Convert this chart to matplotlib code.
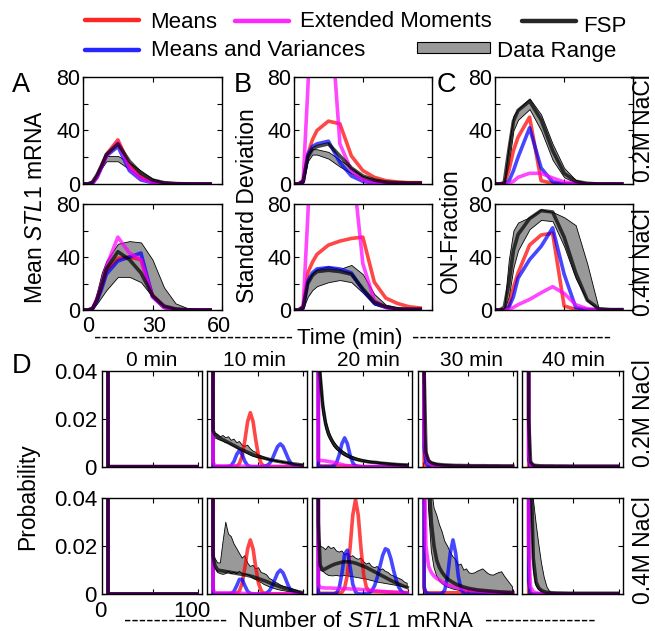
import matplotlib
matplotlib.use('Agg')
import matplotlib.pyplot as plt
from matplotlib.lines import Line2D
from matplotlib.patches import Rectangle
import matplotlib.transforms as mtransforms

plt.rcParams['font.family'] = ['Liberation Sans', 'DejaVu Sans']
plt.rcParams['mathtext.fontset'] = 'custom'
plt.rcParams['mathtext.rm'] = 'Liberation Sans'
plt.rcParams['mathtext.it'] = 'Liberation Sans:italic'
plt.rcParams['mathtext.bf'] = 'Liberation Sans:bold'

# ------------------------------------------------------------------ data
# time course panels (A: mean, B: std, C: ON fraction %), time in min
T = [0, 1, 2, 4, 6, 8, 10, 15, 20, 25, 30, 35, 40, 45, 50, 55]

A02_LO = [0, 0, 0, 1, 5, 12, 17, 17, 11, 5, 1.5, 0.4, 0.1, 0, 0, 0]
A02_HI = [0, 0, 0, 2, 8, 15, 21, 21, 16, 10, 4, 1.5, 0.5, 0.2, 0.1, 0.1]
A02_M = [0, 0, 0, 1, 6, 14, 22, 33, 14, 5, 1.5, 0.5, 0.2, 0, 0, 0]
A02_MV = [0, 0, 0, 0.5, 5, 13, 21, 28, 10, 3, 1, 0.3, 0, 0, 0, 0]
A02_EM = [0, 0, 0, 0.5, 5, 13, 21, 31, 12, 4, 1.2, 0.4, 0.1, 0, 0, 0]
A02_FSP = [0, 0, 0, 1.5, 7, 14, 22, 30, 17, 8, 3, 1, 0.3, 0.1, 0, 0]

A04_LO = [0, 0, 0, 0.5, 5, 10, 15, 25, 25, 21, 10, 2.5, 0.5, 0, 0, 0]
A04_HI = [0, 0, 0, 2, 14, 28, 37, 50, 52, 51, 38, 17, 5, 1.5, 0.5, 0.2]
A04_M = [0, 0, 0, 1, 8, 18, 30, 39, 40, 38, 11, 2, 0.3, 0, 0, 0]
A04_MV = [0, 0, 0, 1, 7, 16, 27, 37, 40, 43, 10, 2, 0.3, 0, 0, 0]
A04_EM = [0, 0, 0, 1, 9, 20, 33, 55, 43, 38, 10, 2, 0.3, 0, 0, 0]
A04_FSP = [0, 0, 0, 1, 8, 19, 31, 44, 38, 28, 11, 3, 0.8, 0.2, 0, 0]

B02_LO = [0, 0, 0, 1, 17, 22, 22, 19, 13, 8, 4, 2, 1, 0.7, 0.6, 0.6]
B02_HI = [0, 0, 0, 2.5, 22, 26, 26, 24, 18, 12, 6, 3.5, 2, 1.5, 1.2, 1.2]
B02_M = [0, 0, 0, 2, 22, 33, 40, 47, 45, 21, 10, 5, 2.5, 1.5, 1, 1]
B02_MV = [0, 0, 0, 1.5, 22, 28, 30, 32, 16, 6, 2, 0.6, 0.2, 0.1, 0, 0]
B02_EM = [0, 0, 0, 3, 70, 150, 160, 150, 30, 10, 3, 1, 0.5, 0.3, 0.2, 0.2]
B02_FSP = [0, 0, 0, 2, 20, 26, 28, 30, 21, 12, 6, 3, 1.5, 1, 0.8, 0.8]

B04_LO = [0, 0, 0, 1, 10, 15, 18, 21, 22.6, 21, 13, 4, 1.5, 0.5, 0.3, 0.3]
B04_HI = [0, 0, 0, 2.5, 22, 28, 31, 33, 31, 34, 27, 12, 4, 2, 1, 1]
B04_M = [0, 0, 0, 2, 28, 36, 42, 49, 52, 54, 55, 21, 9, 5, 2.5, 1.5]
B04_MV = [0, 0, 0, 1.5, 22, 28, 31, 32, 31, 28, 15, 5, 2, 0.5, 0.2, 0.1]
B04_EM = [0, 0, 0, 3, 70, 150, 170, 180, 150, 118, 35, 7, 2, 0.5, 0.3, 0.2]
B04_FSP = [0, 0, 0, 2, 20, 26, 29, 30, 29, 27, 16, 6, 2.5, 1, 0.7, 0.7]

C02_LO = [0, 0, 0, 0.5, 15, 40, 48, 56, 40, 18, 5, 1, 0.2, 0, 0, 0]
C02_HI = [0, 0, 0, 2, 30, 51, 56, 64, 52, 30, 12, 3, 1, 0.5, 0.3, 0.3]
C02_M = [0, 0, 0, 0, 10, 25, 35, 50, 2.5, 0.5, 0, 0, 0, 0, 0, 0]
C02_MV = [0, 0, 0, 0, 2, 10, 20, 42, 12, 1.5, 0.2, 0, 0, 0, 0, 0]
C02_EM = [0, 0, 0, 0, 0.5, 2, 5, 8, 8, 4.5, 1.5, 0.5, 0.1, 0, 0, 0]
C02_FSP = [0, 0, 0, 1, 25, 47, 55, 62, 48, 25, 8, 2, 0.5, 0, 0, 0]

C04_LO = [0, 0, 0, 0, 10, 32, 45, 61, 68, 67, 48, 24, 7, 0.3, 0, 0]
C04_HI = [0, 0, 0, 2, 38, 60, 66, 70, 76, 74, 70, 64, 35, 1, 0.5, 0.5]
C04_M = [0, 0, 0, 0, 3, 17, 28, 49, 56.6, 58, 3, 0.5, 0, 0, 0, 0]
C04_MV = [0, 0, 0, 0, 2, 10, 24, 38, 48, 62, 27, 2, 0.3, 0, 0, 0]
C04_EM = [0, 0, 0, 0, 0.3, 2, 4, 8, 13, 17.6, 12.5, 4, 1, 0.3, 0, 0]
C04_FSP = [0, 0, 0, 2, 20, 45, 57, 69, 75, 74, 55, 28, 7.5, 1, 0.3, 0.3]

# distributions (panel D): number of mRNA and probability x 1e-3
N = [0, 1, 3, 6, 9, 12, 15, 18, 21, 24,
     27, 30, 33, 36, 39, 42, 45, 48, 51, 54,
     57, 60, 63, 66, 69, 72, 75, 78, 81, 84,
     87, 90, 93, 96, 99]

SPIKE = [1000, 0, 0, 0, 0, 0, 0, 0, 0, 0,
         0, 0, 0, 0, 0, 0, 0, 0, 0, 0,
         0, 0, 0, 0, 0, 0, 0, 0, 0, 0,
         0, 0, 0, 0, 0]

# 0.2M, 10 min
M02_10 = [700, 0, 0, 0, 0, 0, 0, 0, 0, 0,
          0.25, 1.3, 4.5, 11, 18.8, 22.5, 18.8, 11, 4.5, 1.3,
          0.25, 0, 0, 0, 0, 0, 0, 0, 0, 0,
          0, 0, 0, 0, 0]
MV02_10 = [600, 0, 0, 0, 0, 0, 0, 0.07, 0.54, 2.2,
           5.1, 6.8, 5.1, 2.2, 0.54, 0.07, 0, 0, 0, 0,
           0.1, 0.42, 1.3, 3.1, 5.8, 8.4, 9.5, 8.4, 5.8, 3.1,
           1.3, 0.42, 0.1, 0, 0]
EM02_10 = [900, 2, 0.4, 0.3, 0.3, 0.3, 0.3, 0.3, 0.3, 0.3,
           0.3, 0.2, 0.2, 0.2, 0.2, 0.1, 0.1, 0.1, 0.1, 0.1,
           0.1, 0.1, 0.1, 0.1, 0.1, 0.1, 0.1, 0.1, 0.1, 0.1,
           0.1, 0.1, 0.1, 0.1, 0.1]
FSP02_10 = [600, 15, 13.5, 12.5, 11.8, 11.2, 10.6, 10.0, 9.4, 8.8,
            8.2, 7.6, 7.0, 6.5, 6.0, 5.5, 5.0, 4.6, 4.2, 3.9,
            3.6, 3.3, 3.0, 2.7, 2.5, 2.3, 2.1, 1.9, 1.7, 1.5,
            1.3, 1.1, 1.0, 0.85, 0.7]
HI02_10 = [600, 15, 14, 13.5, 12.5, 13.0, 12.0, 12.5, 11.0, 11.5,
           10.0, 10.5, 9.0, 8.5, 9.0, 7.5, 6.5, 6.0, 5.0, 4.5,
           4.0, 3.6, 3.2, 2.9, 2.6, 2.4, 2.2, 2.0, 1.8, 1.6,
           1.4, 1.2, 1.05, 0.9, 0.75]
LO02_10 = [600, 13, 12.0, 11.5, 11.0, 10.6, 10.0, 9.8, 9.0, 8.5,
           7.8, 7.2, 6.6, 6.0, 5.4, 4.8, 4.3, 4.0, 3.7, 3.5,
           3.3, 3.1, 2.8, 2.6, 2.4, 2.2, 2.0, 1.8, 1.6, 1.4,
           1.2, 1.0, 0.9, 0.8, 0.65]

# 0.2M, 20 min
M02_20 = [950, 0.3, 0.3, 0.3, 0.3, 0.3, 0.3, 0.3, 0.3, 0.3,
          0.3, 0.3, 0.3, 0.3, 0.3, 0.3, 0.2, 0.1, 0, 0,
          0, 0, 0, 0, 0, 0, 0, 0, 0, 0,
          0, 0, 0, 0, 0]
MV02_20 = [800, 0, 0, 0, 0, 0, 0.04, 0.34, 1.6, 4.9,
           9.6, 12, 9.6, 4.9, 1.6, 0.34, 0.04, 0, 0, 0,
           0, 0, 0, 0, 0, 0, 0, 0, 0, 0,
           0, 0, 0, 0, 0]
EM02_20 = [900, 3, 2.6, 2.5, 2.4, 2.2, 2.0, 1.8, 1.5, 1.2,
           0.9, 0.6, 0.4, 0.25, 0.15, 0.1, 0.05, 0, 0, 0,
           0, 0, 0, 0, 0, 0, 0, 0, 0, 0,
           0, 0, 0, 0, 0]
FSP02_20 = [500, 60, 38, 25, 18, 14, 11.5, 9.5, 8.0, 7.0,
            6.0, 5.2, 4.6, 4.0, 3.6, 3.2, 2.9, 2.6, 2.4, 2.2,
            2.0, 1.9, 1.8, 1.7, 1.5, 1.4, 1.3, 1.2, 1.1, 1.0,
            0.9, 0.85, 0.8, 0.75, 0.7]
HI02_20 = [500, 65, 42, 28, 20, 15.5, 12.5, 10.5, 9.0, 7.8,
           6.8, 6.0, 5.3, 4.7, 4.2, 3.8, 3.4, 3.1, 2.8, 2.6,
           2.4, 2.2, 2.1, 2.0, 1.8, 1.7, 1.6, 1.5, 1.4, 1.3,
           1.2, 1.1, 1.0, 0.95, 0.9]
LO02_20 = [500, 55, 34, 22, 16, 12.5, 10.5, 8.5, 7.2, 6.2,
           5.3, 4.6, 4.0, 3.5, 3.1, 2.8, 2.5, 2.3, 2.1, 1.9,
           1.7, 1.6, 1.5, 1.4, 1.3, 1.2, 1.1, 1.0, 0.9, 0.8,
           0.75, 0.7, 0.65, 0.6, 0.55]

# 0.2M, 30 min
M02_30 = [980, 0, 0, 0, 0, 0, 0, 0, 0, 0,
          0, 0, 0, 0, 0, 0, 0, 0, 0, 0,
          0, 0, 0, 0, 0, 0, 0, 0, 0, 0,
          0, 0, 0, 0, 0]
MV02_30 = [800, 8, 1.5, 0.3, 0.05, 0, 0, 0, 0, 0,
           0, 0, 0, 0, 0, 0, 0, 0, 0, 0,
           0, 0, 0, 0, 0, 0, 0, 0, 0, 0,
           0, 0, 0, 0, 0]
EM02_30 = [800, 15, 5, 2, 0.8, 0.3, 0.15, 0.1, 0.05, 0,
           0, 0, 0, 0, 0, 0, 0, 0, 0, 0,
           0, 0, 0, 0, 0, 0, 0, 0, 0, 0,
           0, 0, 0, 0, 0]
FSP02_30 = [600, 40, 6, 2.5, 1.6, 1.3, 1.0, 0.9, 0.8, 0.7,
            0.65, 0.6, 0.55, 0.5, 0.5, 0.5, 0.45, 0.45, 0.45, 0.4,
            0.4, 0.4, 0.4, 0.4, 0.4, 0.35, 0.35, 0.35, 0.35, 0.35,
            0.3, 0.3, 0.3, 0.3, 0.3]
HI02_30 = [600, 45, 7, 3, 2, 1.6, 1.3, 1.1, 1.0, 0.9,
           0.85, 0.8, 0.75, 0.7, 0.7, 0.65, 0.6, 0.6, 0.6, 0.55,
           0.55, 0.55, 0.5, 0.5, 0.5, 0.5, 0.45, 0.45, 0.45, 0.45,
           0.4, 0.4, 0.4, 0.4, 0.4]
LO02_30 = [600, 35, 5, 2, 1.2, 1.0, 0.8, 0.7, 0.6, 0.5,
           0.5, 0.45, 0.4, 0.4, 0.35, 0.35, 0.3, 0.3, 0.3, 0.3,
           0.3, 0.25, 0.25, 0.25, 0.25, 0.25, 0.2, 0.2, 0.2, 0.2,
           0.2, 0.2, 0.2, 0.2, 0.2]

# 0.2M, 40 min
MV02_40 = [900, 3, 0.3, 0, 0, 0, 0, 0, 0, 0,
           0, 0, 0, 0, 0, 0, 0, 0, 0, 0,
           0, 0, 0, 0, 0, 0, 0, 0, 0, 0,
           0, 0, 0, 0, 0]
EM02_40 = [900, 5, 0.8, 0.2, 0.1, 0, 0, 0, 0, 0,
           0, 0, 0, 0, 0, 0, 0, 0, 0, 0,
           0, 0, 0, 0, 0, 0, 0, 0, 0, 0,
           0, 0, 0, 0, 0]
FSP02_40 = [800, 20, 2.0, 0.7, 0.5, 0.4, 0.35, 0.3, 0.3, 0.3,
            0.3, 0.25, 0.25, 0.25, 0.25, 0.25, 0.2, 0.2, 0.2, 0.2,
            0.2, 0.2, 0.2, 0.2, 0.2, 0.2, 0.2, 0.2, 0.2, 0.2,
            0.2, 0.2, 0.2, 0.2, 0.2]
HI02_40 = [800, 25, 2.5, 0.9, 0.6, 0.5, 0.45, 0.4, 0.4, 0.4,
           0.4, 0.35, 0.35, 0.35, 0.35, 0.35, 0.3, 0.3, 0.3, 0.3,
           0.3, 0.3, 0.3, 0.3, 0.3, 0.3, 0.3, 0.3, 0.3, 0.3,
           0.3, 0.3, 0.3, 0.3, 0.3]
LO02_40 = [800, 15, 1.5, 0.5, 0.4, 0.3, 0.25, 0.2, 0.2, 0.2,
           0.2, 0.15, 0.15, 0.15, 0.15, 0.15, 0.1, 0.1, 0.1, 0.1,
           0.1, 0.1, 0.1, 0.1, 0.1, 0.1, 0.1, 0.1, 0.1, 0.1,
           0.1, 0.1, 0.1, 0.1, 0.1]

# 0.4M, 10 min
M04_10 = [600, 0, 0, 0, 0, 0, 0, 0, 0, 0,
          0.25, 1.3, 4.5, 11, 18.9, 22.6, 18.9, 11, 4.5, 1.3,
          0.25, 0, 0, 0, 0, 0, 0, 0, 0, 0,
          0, 0, 0, 0, 0]
MV04_10 = [600, 0, 0, 0, 0, 0, 0, 0.02, 0.21, 1.1,
           3.45, 6.1, 6.1, 3.45, 1.1, 0.21, 0.02, 0, 0, 0,
           0.11, 0.44, 1.35, 3.25, 6.1, 8.8, 10, 8.8, 6.1, 3.25,
           1.35, 0.44, 0.11, 0, 0]
EM04_10 = [900, 2, 0.6, 0.5, 0.5, 0.5, 0.5, 0.5, 0.5, 0.4,
           0.4, 0.3, 0.3, 0.2, 0.2, 0.2, 0.1, 0.1, 0.1, 0.1,
           0.1, 0.1, 0.1, 0.1, 0.1, 0.1, 0.1, 0.1, 0.1, 0.1,
           0.1, 0.1, 0.1, 0.1, 0.1]
FSP04_10 = [500, 16, 12, 10, 9.8, 9.6, 9.4, 9.2, 9.0, 8.8,
            8.6, 8.4, 8.2, 8.0, 7.8, 7.5, 7.2, 6.8, 6.4, 6.0,
            5.6, 5.2, 4.7, 4.2, 3.8, 3.4, 3.0, 2.6, 2.3, 2.0,
            1.7, 1.4, 1.1, 0.85, 0.6]
HI04_10 = [500, 18, 15, 13, 13, 22, 30, 25, 24, 21,
           19, 17, 15, 16, 13, 11.5, 12, 10.5, 11, 9,
           8.6, 8, 6.5, 5.9, 5, 4.5, 3.8, 3.3, 3, 2.6,
           2.3, 1.9, 1.5, 1.0, 0.7]
LO04_10 = [500, 14, 11, 9, 8.5, 8.2, 8.5, 9.5, 8.5, 9,
           8.5, 9.5, 8.5, 8.2, 8, 7.5, 6.5, 6, 5.2, 4.8,
           4, 3.5, 3, 2.6, 2.2, 1.9, 1.6, 1.4, 1.2, 1.0,
           0.9, 0.8, 0.7, 0.6, 0.5]

# 0.4M, 20 min
M04_20 = [400, 0.3, 0.3, 0.3, 0.3, 0.3, 0.3, 0.3, 0.3, 0.36,
          0.7, 2.5, 8.0, 19.3, 33, 39.5, 33, 19.3, 8.0, 2.8,
          1.3, 1.0, 1.0, 0.95, 0.9, 0.9, 0.85, 0.8, 0.8, 0.75,
          0.7, 0.7, 0.65, 0.6, 0.6]
MV04_20 = [500, 0, 0, 0, 0, 0, 0, 0.04, 0.42, 2.5,
           8.6, 16.7, 18.3, 11.5, 4.1, 0.8, 0.09, 0, 0, 0.14,
           0.48, 1.4, 3.4, 6.9, 11.6, 16.2, 18.9, 18.3, 14.8, 9.9,
           5.6, 2.6, 1.0, 0.33, 0.08]
EM04_20 = [800, 4, 2.8, 2.6, 2.5, 2.5, 2.5, 2.4, 2.4, 2.3,
           2.3, 2.2, 2.2, 2.1, 2.1, 2.0, 2.0, 1.9, 1.8, 1.7,
           1.6, 1.5, 1.4, 1.3, 1.2, 1.1, 1.0, 0.9, 0.8, 0.7,
           0.6, 0.5, 0.4, 0.4, 0.3]
FSP04_20 = [300, 30, 12, 10, 10.6, 11.2, 11.8, 12.3, 12.7, 13.0,
            13.3, 13.5, 13.5, 13.4, 13.2, 12.9, 12.5, 12.0, 11.6, 11.1,
            10.5, 9.9, 9.3, 8.7, 8.1, 7.5, 6.9, 6.3, 5.7, 5.1,
            4.6, 4.1, 3.6, 3.1, 2.7]
HI04_20 = [300, 30, 20, 19.5, 18.5, 20, 19, 19.5, 18, 17.5,
           18, 16.5, 17, 15.5, 16, 15, 14.5, 15, 13.5, 12.5,
           13, 11.5, 11, 11.5, 10, 10.5, 9.5, 9, 8, 7.5,
           7, 6.5, 6, 5, 4.5]
LO04_20 = [300, 20, 10, 9.5, 8.5, 7.8, 7.6, 7.6, 7.8, 7.5,
           7.6, 7.7, 7.6, 7.4, 7.2, 7.0, 6.8, 6.6, 6.4, 6.2,
           5.9, 5.6, 5.3, 5.0, 4.8, 4.6, 4.4, 4.2, 4.0, 3.8,
           3.6, 3.4, 3.2, 3.0, 2.8]

# 0.4M, 30 min
M04_30 = [900, 2, 0.6, 0.5, 0.5, 0.5, 0.5, 0.5, 0.5, 0.5,
          0.5, 0.5, 0.5, 0.5, 0.5, 0.5, 0.5, 0.5, 0.4, 0.4,
          0.4, 0.3, 0.3, 0.3, 0.3, 0.3, 0.3, 0.3, 0.3, 0.3,
          0.3, 0.3, 0.3, 0.3, 0.3]
MV04_30 = [700, 3, 0.5, 0.1, 0, 0, 0, 0, 0.25, 1.8,
           7.3, 17.1, 22.6, 17.1, 7.3, 1.8, 0.25, 0, 0, 0,
           0, 0, 0, 0, 0, 0, 0, 0, 0, 0,
           0, 0, 0, 0, 0]
EM04_30 = [700, 60, 20, 11.5, 9, 7.5, 6.5, 5.8, 5.0, 4.4,
           3.8, 3.4, 3.1, 2.8, 2.5, 2.2, 2.0, 1.8, 1.6, 1.5,
           1.4, 1.3, 1.2, 1.1, 1.0, 0.9, 0.8, 0.8, 0.7, 0.7,
           0.6, 0.6, 0.5, 0.5, 0.5]
FSP04_30 = [300, 120, 80, 50, 30, 20, 14, 11, 9, 7.5,
            6.3, 5.5, 4.8, 4.2, 3.7, 3.3, 2.9, 2.6, 2.3, 2.1,
            1.9, 1.7, 1.6, 1.5, 1.4, 1.3, 1.2, 1.1, 1.0, 0.9,
            0.85, 0.8, 0.75, 0.7, 0.6]
HI04_30 = [300, 200, 120, 70, 45, 36, 33, 29, 26, 22,
           20, 17.5, 15.6, 14.5, 12, 12.5, 10, 10.5, 8.8, 8.6,
           8.8, 9.5, 10, 10.5, 9.5, 8.5, 8, 7.9, 8.5, 9,
           9.3, 7.5, 6, 4.5, 3]
LO04_30 = [300, 100, 60, 35, 18, 11, 7.5, 5.5, 4.3, 3.5,
           2.9, 2.5, 2.1, 1.8, 1.6, 1.4, 1.3, 1.2, 1.1, 1.0,
           0.9, 0.8, 0.8, 0.7, 0.7, 0.6, 0.6, 0.6, 0.5, 0.5,
           0.5, 0.5, 0.5, 0.4, 0.4]

# 0.4M, 40 min
M04_40 = [950, 0, 0, 0, 0, 0, 0, 0, 0, 0,
          0, 0, 0, 0, 0, 0, 0, 0, 0, 0,
          0, 0, 0, 0, 0, 0, 0, 0, 0, 0,
          0, 0, 0, 0, 0]
MV04_40 = [900, 5, 0.5, 0, 0, 0, 0, 0, 0, 0,
           0, 0, 0, 0, 0, 0, 0, 0, 0, 0,
           0, 0, 0, 0, 0, 0, 0, 0, 0, 0,
           0, 0, 0, 0, 0]
EM04_40 = [900, 20, 3, 1, 0.5, 0.3, 0.2, 0.1, 0.1, 0,
           0, 0, 0, 0, 0, 0, 0, 0, 0, 0,
           0, 0, 0, 0, 0, 0, 0, 0, 0, 0,
           0, 0, 0, 0, 0]
FSP04_40 = [500, 200, 60, 15, 5, 2.5, 1.5, 1.0, 0.7, 0.6,
            0.5, 0.45, 0.4, 0.4, 0.35, 0.35, 0.3, 0.3, 0.3, 0.3,
            0.3, 0.3, 0.3, 0.3, 0.3, 0.3, 0.3, 0.3, 0.3, 0.3,
            0.3, 0.3, 0.3, 0.3, 0.3]
HI04_40 = [500, 250, 120, 40, 30, 21, 13, 7, 3, 1,
           0.5, 0.4, 0.35, 0.3, 0.3, 0.3, 0.3, 0.3, 0.3, 0.3,
           0.3, 0.3, 0.3, 0.3, 0.3, 0.3, 0.3, 0.3, 0.3, 0.3,
           0.3, 0.3, 0.3, 0.3, 0.3]
LO04_40 = [500, 150, 45, 10, 3.5, 1.8, 1.0, 0.7, 0.5, 0.4,
           0.35, 0.3, 0.3, 0.25, 0.25, 0.2, 0.2, 0.2, 0.2, 0.2,
           0.2, 0.2, 0.2, 0.2, 0.2, 0.2, 0.2, 0.2, 0.2, 0.2,
           0.2, 0.2, 0.2, 0.2, 0.2]

D_TIMES = ['0 min', '10 min', '20 min', '30 min', '40 min']
SALTS = ['0.2M NaCl', '0.4M NaCl']

# panel D table: [salt][time] -> (lo, hi, means, mv, em, fsp)
D_DATA = [
    [(SPIKE, SPIKE, SPIKE, SPIKE, SPIKE, SPIKE),
     (LO02_10, HI02_10, M02_10, MV02_10, EM02_10, FSP02_10),
     (LO02_20, HI02_20, M02_20, MV02_20, EM02_20, FSP02_20),
     (LO02_30, HI02_30, M02_30, MV02_30, EM02_30, FSP02_30),
     (LO02_40, HI02_40, SPIKE, MV02_40, EM02_40, FSP02_40)],
    [(SPIKE, SPIKE, SPIKE, SPIKE, SPIKE, SPIKE),
     (LO04_10, HI04_10, M04_10, MV04_10, EM04_10, FSP04_10),
     (LO04_20, HI04_20, M04_20, MV04_20, EM04_20, FSP04_20),
     (LO04_30, HI04_30, M04_30, MV04_30, EM04_30, FSP04_30),
     (LO04_40, HI04_40, M04_40, MV04_40, EM04_40, FSP04_40)],
]

TOP_DATA = {
    'A': [(A02_LO, A02_HI, A02_M, A02_MV, A02_EM, A02_FSP),
          (A04_LO, A04_HI, A04_M, A04_MV, A04_EM, A04_FSP)],
    'B': [(B02_LO, B02_HI, B02_M, B02_MV, B02_EM, B02_FSP),
          (B04_LO, B04_HI, B04_M, B04_MV, B04_EM, B04_FSP)],
    'C': [(C02_LO, C02_HI, C02_M, C02_MV, C02_EM, C02_FSP),
          (C04_LO, C04_HI, C04_M, C04_MV, C04_EM, C04_FSP)],
}

# ------------------------------------------------------------------ figure
W, H = 655, 631
fig = plt.figure(figsize=(W / 100, H / 100), dpi=100)


def add_ax(x0, y0, x1, y1):
    return fig.add_axes([x0 / W, 1 - y1 / H, (x1 - x0) / W, (y1 - y0) / H])


def ftext(x, y, s, **kw):
    return fig.text(x / W, 1 - y / H, s, **kw)


def px_shift(dx):
    return mtransforms.ScaledTranslation(dx / 100, 0, fig.dpi_scale_trans)


C_RED, C_BLUE, C_MAG, C_FSP = '#ff0000', '#0000ff', '#ff00ff', '#000000'
GRAY = '#999999'
ALPHA = 0.72
LW = 2.6


def frame(ax, fs, xpad, ypad):
    ax.tick_params(direction='in', top=True, right=True, length=3.5, width=0.8,
                   labelsize=fs)
    ax.tick_params(axis='x', pad=xpad)
    ax.tick_params(axis='y', pad=ypad)
    for s in ax.spines.values():
        s.set_linewidth(1.0)


def draw(ax, x, lo, hi, m, mv, em, fsp, scale=1.0):
    def sc(v):
        v = v[:len(x)]
        return x[:len(v)], [q * scale for q in v]
    xl, l = sc(lo)
    _, h = sc(hi)
    ax.fill_between(xl, l, h, facecolor=GRAY, edgecolor='black', linewidth=0.6, zorder=1)
    for vals, c in [(m, C_RED), (mv, C_BLUE), (em, C_MAG), (fsp, C_FSP)]:
        xx, yy = sc(vals)
        ax.plot(xx, yy, color=c, lw=LW, alpha=ALPHA, zorder=2, solid_joinstyle='round')


# top panels
TOP_X = {'A': (83.3, 221.7), 'B': (294, 431.7), 'C': (495, 633.3)}
TOP_Y = [(77, 184), (204, 310)]
for key, (x0, x1) in TOP_X.items():
    for r, (y0, y1) in enumerate(TOP_Y):
        ax = add_ax(x0, y0, x1, y1)
        draw(ax, T, *TOP_DATA[key][r])
        ax.set_xlim(0, 60)
        ax.set_ylim(0, 80)
        ax.set_yticks([0, 20, 40, 60, 80])
        ax.set_yticklabels(['0', '', '40', '', '80'])
        ax.set_xticks([0, 30, 60])
        if key == 'A' and r == 1:
            ax.set_xticklabels(['0', '30', '60'])
        else:
            ax.set_xticklabels([])
        frame(ax, 15.5, 4, 2)
        if key == 'A' and r == 1:
            for lab, dx in zip(ax.get_xticklabels(), [4.5, 1.5, -2.5]):
                lab.set_transform(lab.get_transform() + px_shift(dx))

# panel D
D_X = [(101.7, 201.7), (206.7, 306.7), (312, 411.7), (417.8, 517), (522.3, 622.7)]
D_Y = [(370.7, 466.7), (498.3, 594)]
TITLE_X = [152, 254, 368, 471, 573]
for r, (y0, y1) in enumerate(D_Y):
    for c, (x0, x1) in enumerate(D_X):
        ax = add_ax(x0, y0, x1, y1)
        draw(ax, N, *D_DATA[r][c], scale=0.001)
        ax.set_xlim(-6, 104)
        ax.set_ylim(0, 0.04)
        ax.set_yticks([0, 0.02, 0.04])
        ax.set_xticks([0, 50, 100])
        if c == 0:
            ax.set_yticklabels(['0', '0.02', '0.04'])
        else:
            ax.set_yticklabels([])
        if c == 0 and r == 1:
            ax.set_xticklabels(['0', '', '100'])
        else:
            ax.set_xticklabels([])
        frame(ax, 16, 5, 3.4)
        if c == 0 and r == 1:
            for lab in ax.get_xticklabels():
                lab.set_transform(lab.get_transform() + px_shift(-6.5))
        if r == 0:
            ftext(TITLE_X[c], 366, D_TIMES[c], fontsize=15, ha='center', va='baseline')

# panel letters
for s, x, y in [('A', 21, 92), ('B', 243, 92), ('C', 446, 92), ('D', 22, 373)]:
    ftext(x, y, s, fontsize=19.5, ha='center', va='baseline')

# axis labels
ftext(36, 207, r'Mean $\mathit{STL1}$ mRNA', fontsize=16.5, rotation=90, ha='center', va='center')
ftext(248, 206, 'Standard Deviation', fontsize=16.5, rotation=90, ha='center', va='center')
ftext(450, 231, 'ON-Fraction', fontsize=16.5, rotation=90, ha='center', va='center')
ftext(28, 497, 'Probability', fontsize=16.5, rotation=90, ha='center', va='center')

for (x, y), s in zip([(644, 128), (644, 262), (644, 413), (644, 550)], SALTS + SALTS):
    ftext(x, y, s, fontsize=16.5, rotation=90, ha='center', va='center')

# dashed axis titles
ftext(293, 344, '-' * 27, fontsize=16, ha='right', va='baseline')
ftext(350, 344, 'Time (min)', fontsize=16, ha='center', va='baseline')
ftext(412, 344, '-' * 27, fontsize=16, ha='left', va='baseline')

ftext(227, 627, '-' * 14, fontsize=16, ha='right', va='baseline')
ftext(355, 627, r'Number of $\mathit{STL1}$ mRNA', fontsize=16, ha='center', va='baseline')
ftext(485, 627, '-' * 15, fontsize=16, ha='left', va='baseline')

# legend
def leg_line(x0, x1, y, color):
    fig.add_artist(Line2D([x0 / W, x1 / W], [1 - y / H, 1 - y / H], color=color,
                          lw=3.2, alpha=0.85, transform=fig.transFigure,
                          solid_capstyle='round'))

leg_line(85, 139, 19.5, C_RED)
ftext(150, 27.5, 'Means', fontsize=16, ha='left', va='baseline')
leg_line(235, 289, 20.5, C_MAG)
ftext(300, 27.3, 'Extended Moments', fontsize=16, ha='left', va='baseline')
leg_line(522, 576, 20.5, C_FSP)
ftext(583, 31.7, 'FSP', fontsize=16, ha='left', va='baseline')
leg_line(85, 139, 50, C_BLUE)
ftext(151, 56.5, 'Means and Variances', fontsize=16, ha='left', va='baseline')
fig.add_artist(Rectangle((417 / W, 1 - 53 / H), 73 / W, 11 / H, facecolor=GRAY,
                         edgecolor='black', lw=0.8, transform=fig.transFigure))
ftext(497, 56.5, 'Data Range', fontsize=16, ha='left', va='baseline')

fig.savefig('out.png', dpi=100)
